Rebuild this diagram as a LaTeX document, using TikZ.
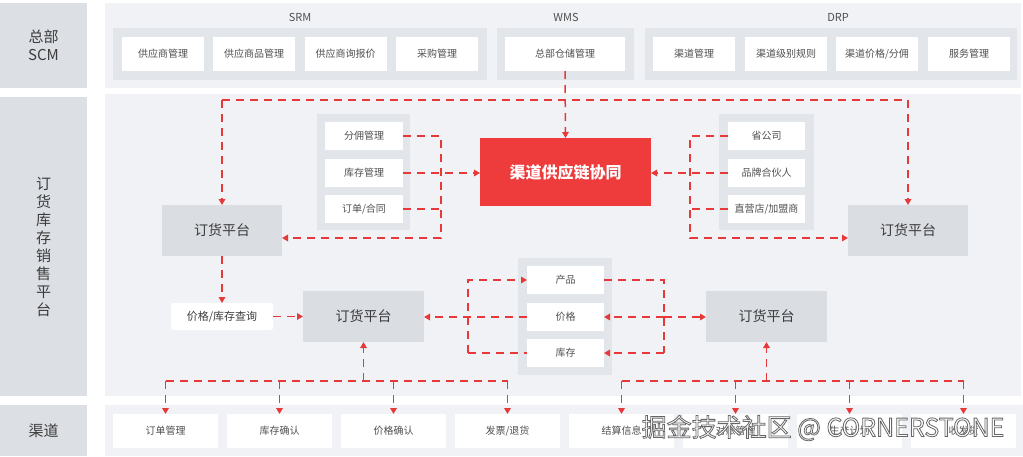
\documentclass[tikz,border=0pt]{standalone}
\usepackage{fontspec}
\setmainfont{Noto Sans CJK SC}
\usetikzlibrary{arrows.meta}
\definecolor{panelbg}{HTML}{F0F2F5}
\definecolor{labgray}{HTML}{DCDFE4}
\definecolor{grpgray}{HTML}{E2E5E9}
\definecolor{platgray}{HTML}{DADDE2}
\definecolor{redbox}{HTML}{EE3B3B}
\definecolor{dashred}{HTML}{E8393A}
\definecolor{txt}{HTML}{505050}
\definecolor{txtdark}{HTML}{3C3C3C}
\newcommand\fs[2]{\fontsize{#1}{#2}\selectfont}
\newcommand\bx[6]{\node[#1, minimum width=#4pt, minimum height=#5pt] (#2) at (#3) {#6};}
\newcommand\outlinetext[1]{\special{pdf:literal direct 0.4 G 0.8 w 2 Tr}#1\special{pdf:literal direct 0 Tr}}
\begin{document}
\begin{tikzpicture}[x=1pt,y=-1pt,
  base/.style={anchor=north west, inner sep=0pt, outer sep=0pt},
  lab/.style={base, fill=labgray, text=txtdark, font=\fs{15}{18}, align=center},
  panel/.style={base, fill=panelbg},
  grp/.style={base, fill=grpgray},
  item/.style={base, fill=white, text=txt, font=\fs{10}{12}},
  plat/.style={base, fill=platgray, text=txtdark, font=\fs{14}{16}},
  ttl/.style={text=txt, font=\fs{11}{13}, inner sep=0pt},
  dl/.style={draw=dashred, line width=1.5pt, dash pattern=on 8pt off 6pt},
  arr/.style={-{Triangle[length=6pt,width=6.5pt]}}
]
\useasboundingbox[fill=white] (0,0) rectangle (1023,456);
% left labels
\bx{lab}{labA}{0,3}{87}{85}{总部\\SCM}
\bx{lab}{labB}{0,97}{87}{299}{订\\货\\库\\存\\销\\售\\平\\台}
\bx{lab}{labC}{0,405}{87}{51}{渠道}
% panels
\bx{panel}{pA}{105,3}{916}{85}{}
\bx{panel}{pB}{105,94}{916}{302}{}
\bx{panel}{pC}{105,405}{918}{51}{}
% top groups
\bx{grp}{gSRM}{113,28}{374}{52}{}
\bx{grp}{gWMS}{497,28}{137}{52}{}
\bx{grp}{gDRP}{645,28}{372}{52}{}
\node[ttl] (tSRM) at (300,17) {SRM};
\node[ttl] (tWMS) at (566,17) {WMS};
\node[ttl] (tDRP) at (838,17) {DRP};
\bx{item}{s1}{122,37}{82}{34}{供应商管理}
\bx{item}{s2}{213,37}{82}{34}{供应商品管理}
\bx{item}{s3}{304.5,37}{82}{34}{供应商询报价}
\bx{item}{s4}{396,37}{82}{34}{采购管理}
\bx{item}{w1}{505,37}{120}{34}{总部仓储管理}
\bx{item}{d1}{653,37}{82}{34}{渠道管理}
\bx{item}{d2}{745,37}{82}{34}{渠道级别规则}
\bx{item}{d3}{836,37}{82}{34}{渠道价格/分佣}
\bx{item}{d4}{928,37}{82}{34}{服务管理}
% middle
\bx{plat}{L1}{162,205}{120}{51}{订货平台}
\bx{plat}{R1}{848,205}{120}{51}{订货平台}
\node[base, fill=redbox, text=white, font=\fs{16}{18}\bfseries, minimum width=171pt, minimum height=68pt] (red) at (480,138) {渠道供应链协同};
\bx{grp}{gL}{317,114}{93}{116}{}
\bx{item}{fy}{325,122}{78}{28}{分佣管理}
\bx{item}{kc}{325,159}{78}{28}{库存管理}
\bx{item}{dd}{325,195}{78}{28}{订单/合同}
\bx{grp}{gR}{719,114}{95}{116}{}
\bx{item}{sg}{728,122}{77}{28}{省公司}
\bx{item}{pp}{728,159}{77}{28}{品牌合伙人}
\bx{item}{zy}{728,195}{77}{28}{直营店/加盟商}
\node[base, fill=white, text=txtdark, font=\fs{11}{13}, minimum width=102pt, minimum height=27pt, rounded corners=2pt] (qry) at (171,303) {价格/库存查询};
\bx{plat}{M}{303,291}{121}{51}{订货平台}
\bx{plat}{MR}{706,291}{121}{51}{订货平台}
\bx{grp}{gM}{518,258}{94}{117}{}
\bx{item}{cp}{527,266}{77}{28}{产品}
\bx{item}{jg}{527,303}{77}{28}{价格}
\bx{item}{kc2}{527,339}{77}{28}{库存}
% bottom items
\bx{item}{b1}{113,414}{105}{34}{订单管理}
\bx{item}{b2}{227,414}{105}{34}{库存确认}
\bx{item}{b3}{341,414}{105}{34}{价格确认}
\bx{item}{b4}{455,414}{105}{34}{发票/退货}
\bx{item}{b5}{569,414}{105}{34}{结算信息}
\bx{item}{b6}{683,414}{105}{34}{对账管理}
\bx{item}{b7}{797,414}{105}{34}{生产计划}
\bx{item}{b8}{911,414}{105}{34}{收发货}
% helper coordinates
\coordinate (tb) at (0,100);
\coordinate (jl) at (441,238);
\coordinate (jr) at (690,238);
\coordinate (bl) at (468,0);
\coordinate (br) at (664,0);
\coordinate (bus) at (0,381);
% connectors
\draw[dl] (L1.north |- tb) -- (R1.north |- tb);
\draw[dl,arr] (L1.north |- tb) -- (L1.north);
\draw[dl,arr] (R1.north |- tb) -- (R1.north);
\draw[dl,arr] (w1.south) -- (red.north);
\draw[dl,arr] (fy.east) -- (fy.east -| jl) -- (jl) -- (jl -| L1.east);
\draw[dl] (dd.east) -- (dd.east -| jl);
\draw[dl,arr] (kc.east) -- (red.west |- kc.east);
\draw[dl,arr] (sg.west) -- (sg.west -| jr) -- (jr) -- (jr -| R1.west);
\draw[dl] (zy.west) -- (zy.west -| jr);
\draw[dl,arr] (pp.west) -- (red.east |- pp.west);
\draw[dl,arr] (L1.south) -- (qry.north);
\draw[dl,arr] (qry.east) -- (M.west |- qry.east);
\draw[dl,arr] (kc2.west -| bl) -- (cp.west -| bl) -- (cp.west);
\draw[dl] (kc2.west -| bl) -- (kc2.west);
\draw[dl,arr] (jg.west) -- (M.east |- jg.west);
\draw[dl] (cp.east) -- (cp.east -| br) -- (kc2.east -| br);
\draw[dl,arr] (kc2.east -| br) -- (kc2.east);
\draw[dl,arr] (jg.east -| br) -- (jg.east);
\draw[dl,arr] (jg.east -| br) -- (MR.west |- jg.east);
% bottom buses
\draw[dl] (b1.north |- bus) -- (b4.north |- bus);
\draw[dl,arr] (bus -| M.south) -- (M.south);
\draw[dl] (b5.north |- bus) -- (b8.north |- bus);
\draw[dl,arr] (bus -| MR.south) -- (MR.south);
\foreach \b in {b1,b2,b3,b4,b5,b6,b7,b8}{
  \draw[dl,arr] (\b.north |- bus) -- (\b.north);
}
% watermark
\node[text=white, font=\fs{25}{29}, inner sep=0pt] (wm) at (823,428) {\outlinetext{掘金技术社区 @ CORNERSTONE}};
\end{tikzpicture}
\end{document}
